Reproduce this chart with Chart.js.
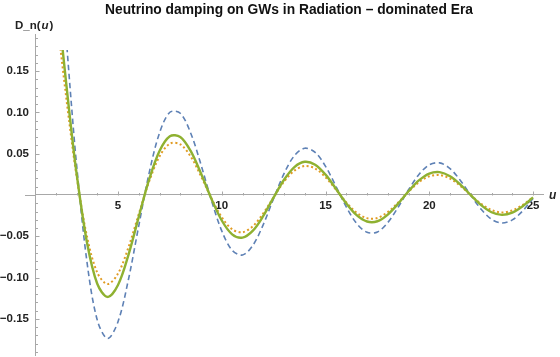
<!DOCTYPE html>
<html>
<head>
<meta charset="utf-8">
<script src="https://cdn.jsdelivr.net/npm/chart.js@4.4.0/dist/chart.umd.min.js"></script>
<style>
	body { margin: 0; background: #fff; }
	#wrap { width: 560px; height: 357px; }
</style>
</head>
<body>
<div id="wrap"><canvas id="dampChart"></canvas></div>
<script>
var uValues = [2.0, 2.25, 2.5, 2.75, 3.0, 3.5, 4.0, 4.5, 5.0, 5.5, 6.0, 6.5, 7.0, 7.5, 8.0, 8.5,
	9.0, 9.5, 10.0, 10.5, 11.0, 11.5, 12.0, 12.5, 13.0, 13.5, 14.0, 14.5, 15.0, 15.5, 16.0, 16.5,
	17.0, 17.5, 18.0, 18.5, 19.0, 19.5, 20.0, 20.5, 21.0, 21.5, 22.0, 22.5, 23.0, 23.5, 24.0, 24.5, 25.0];

// blue dashed curve
var blueVals = [0.364, 0.277, 0.192, 0.111, 0.0376, -0.0802, -0.1514, -0.1738, -0.1534, -0.1026, -0.0373,
	0.0265, 0.0751, 0.1001, 0.0989, 0.0751, 0.0366, -0.0063, -0.0435, -0.0670, -0.0727, -0.0609, -0.0358,
	-0.0042, 0.0259, 0.0476, 0.0566, 0.0516, 0.0347, 0.0107, -0.0144, -0.0345, -0.0452, -0.0448, -0.0334,
	-0.0148, 0.0063, 0.0248, 0.0365, 0.0389, 0.0319, 0.0176, -0.0003, -0.0173, -0.0294, -0.0340, -0.0302,
	-0.0193, -0.0042];

// green solid curve
var greenVals = [0.258, 0.196, 0.136, 0.0788, 0.0267, -0.0569, -0.1075, -0.1234, -0.1089, -0.0728, -0.0265,
	0.0188, 0.0533, 0.0711, 0.0702, 0.0533, 0.0260, -0.0045, -0.0309, -0.0476, -0.0516, -0.0432, -0.0254,
	-0.0030, 0.0184, 0.0338, 0.0402, 0.0366, 0.0246, 0.0076, -0.0102, -0.0245, -0.0321, -0.0318, -0.0237,
	-0.0105, 0.0045, 0.0176, 0.0259, 0.0276, 0.0226, 0.0125, -0.0002, -0.0123, -0.0209, -0.0241, -0.0214,
	-0.0137, -0.0030];

// orange dotted curve
var orangeVals = [0.226, 0.172, 0.119, 0.0688, 0.0233, -0.0497, -0.0939, -0.1078, -0.0951, -0.0636, -0.0231,
	0.0164, 0.0466, 0.0621, 0.0613, 0.0466, 0.0227, -0.0039, -0.0270, -0.0415, -0.0451, -0.0378, -0.0222,
	-0.0026, 0.0161, 0.0295, 0.0351, 0.0320, 0.0215, 0.0066, -0.0089, -0.0214, -0.0280, -0.0278, -0.0207,
	-0.0092, 0.0039, 0.0154, 0.0226, 0.0241, 0.0198, 0.0109, -0.0002, -0.0107, -0.0182, -0.0211, -0.0187,
	-0.0120, -0.0026];

var xTicks = [5, 10, 15, 20, 25];
var yTicks = [-0.15, -0.10, -0.05, 0.05, 0.10, 0.15];

var FONT = '"Liberation Sans", Arial, sans-serif';
var axisColor = '#a8a8a8';

function pts(vals) {
	return uValues.map(function(u, i) { return {x: u, y: vals[i]}; });
}

// mathematica style axes: minor ticks, ticks pointing inward, axis labels
var mmaAxes = {
	id: 'mmaAxes',
	beforeDatasetsDraw: function(chart) {
		var ctx = chart.ctx, xs = chart.scales.x, ys = chart.scales.y;
		var y0 = Math.round(ys.getPixelForValue(0)) + 0.5;
		var xa = Math.round(xs.left) + 0.5;
		ctx.save();
		ctx.strokeStyle = axisColor;
		ctx.lineWidth = 1;
		ctx.beginPath();
		ctx.moveTo(xs.left - 10, y0);
		ctx.lineTo(xs.left, y0);
		for (var u = 2; u <= 25; u++) {
			var px = Math.round(xs.getPixelForValue(u)) + 0.5;
			var len = xTicks.indexOf(u) >= 0 ? 4 : 2.5;
			ctx.moveTo(px, y0);
			ctx.lineTo(px, y0 - len);
		}
		for (var k = -19; k <= 19; k++) {
			if (k === 0) continue;
			var py = Math.round(ys.getPixelForValue(k / 100)) + 0.5;
			var l = (k % 5 === 0) ? 4 : 2.5;
			ctx.moveTo(xa, py);
			ctx.lineTo(xa + l, py);
		}
		ctx.stroke();
		ctx.restore();
	},
	afterDraw: function(chart) {
		var ctx = chart.ctx, xs = chart.scales.x, ys = chart.scales.y;
		var y0 = ys.getPixelForValue(0);
		ctx.save();
		ctx.fillStyle = '#222';
		ctx.textBaseline = 'alphabetic';
		var tx = 15, base = 28.5;
		ctx.font = 'bold 11.5px ' + FONT;
		ctx.fillText('D_n(', tx, base);
		tx += ctx.measureText('D_n(').width + 1;
		ctx.font = 'italic bold 11.5px ' + FONT;
		ctx.fillText('u', tx, base);
		tx += ctx.measureText('u').width + 1;
		ctx.font = 'bold 11.5px ' + FONT;
		ctx.fillText(')', tx, base);
		ctx.font = 'italic bold 12px ' + FONT;
		ctx.fillText('u', xs.right + 6, y0 + 4);
		ctx.restore();
	}
};

var dsClip = {left: 0, top: -15, right: 0, bottom: 0};

var ctx = document.getElementById('dampChart').getContext('2d');
var dampChart = new Chart(ctx, {
	type: 'line',
	data: {
		datasets: [{
			label: 'green',
			data: pts(greenVals),
			borderColor: '#8FB131',
			borderWidth: 2.4,
			clip: dsClip
		}, {
			label: 'orange',
			data: pts(orangeVals),
			borderColor: '#E19C24',
			borderWidth: 2,
			borderDash: [2, 2.5],
			clip: dsClip
		}, {
			label: 'blue',
			data: pts(blueVals),
			borderColor: '#5E81B5',
			borderWidth: 1.6,
			borderDash: [5.5, 3.5],
			clip: dsClip
		}]
	},
	options: {
		responsive: true,
		maintainAspectRatio: false,
		animation: false,
		elements: {
			point: { radius: 0 },
			line: { tension: 0.33, fill: false, capBezierPoints: false }
		},
		layout: { padding: {left: 0, right: 17, top: 0, bottom: 2} },
		plugins: {
			legend: { display: false },
			tooltip: { enabled: false },
			title: {
				display: true,
				fullSize: false,
				text: 'Neutrino damping on GWs in Radiation \u2013 dominated Era',
				color: '#111',
				font: { family: FONT, size: 13.8, weight: 'bold' },
				padding: { top: 1.5, bottom: 16.9 }
			}
		},
		scales: {
			x: {
				type: 'linear',
				min: 1,
				max: 25.48,
				position: { y: 0 },
				grid: { display: false, drawTicks: false },
				border: { display: true, color: axisColor, width: 1 },
				afterBuildTicks: function(s) { s.ticks = xTicks.map(function(v) { return {value: v}; }); },
				ticks: {
					padding: 4,
					maxRotation: 0,
					color: '#222',
					font: { family: FONT, size: 11.5, weight: 'bold' },
					callback: function(v) { return String(v); }
				}
			},
			y: {
				type: 'linear',
				min: -0.1937,
				max: 0.1937,
				position: 'left',
				afterFit: function(s) {
					s.width = 35;
					s.paddingTop = 0;
					s.paddingBottom = 0;
				},
				grid: { display: false, drawTicks: false },
				border: { display: true, color: axisColor, width: 1 },
				afterBuildTicks: function(s) { s.ticks = yTicks.map(function(v) { return {value: v}; }); },
				ticks: {
					padding: 6,
					color: '#222',
					font: { family: FONT, size: 11.5, weight: 'bold' },
					callback: function(v) {
						var s = Math.abs(v).toFixed(2);
						return v < 0 ? '\u2212' + s : s;
					}
				}
			}
		}
	},
	plugins: [mmaAxes]
});
</script>
</body>
</html>
